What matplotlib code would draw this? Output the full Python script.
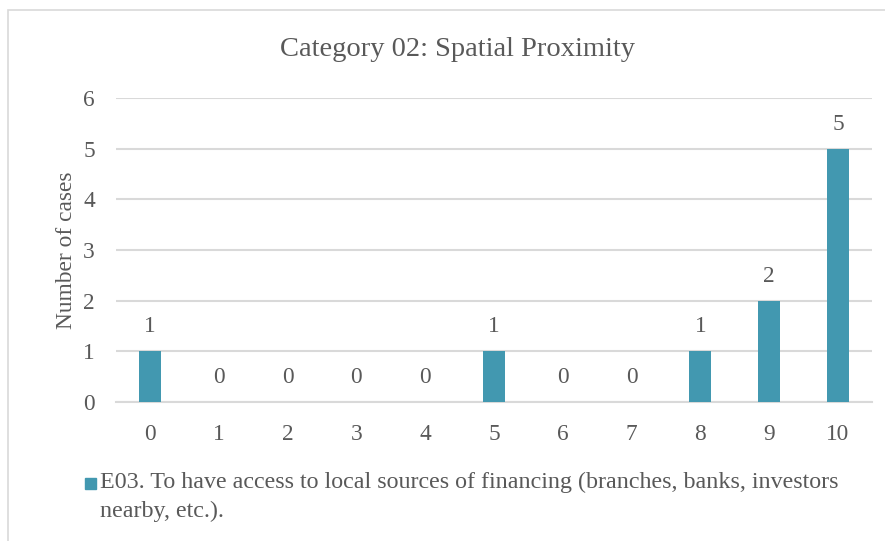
import matplotlib.pyplot as plt
from matplotlib.patches import Rectangle

scores = [0, 1, 2, 3, 4, 5, 6, 7, 8, 9, 10]
cases = [1, 0, 0, 0, 0, 1, 0, 0, 1, 2, 5]
series_label = "E03. To have access to local sources of financing (branches, banks, investors\nnearby, etc.)."
title = "Category 02: Spatial Proximity"

bar_color = "#4298B0"
text_color = "#595959"
grid_color = "#D9D9D9"

plt.rcParams['font.family'] = ['Liberation Serif', 'DejaVu Serif']

W, H = 885, 541
fig = plt.figure(figsize=(W / 100, H / 100), dpi=100)

# chart border (only left/top visible in the reference)
fig.patches.append(Rectangle((8 / W, -0.01), 1.0, 1 - 10 / H + 0.01,
                             transform=fig.transFigure, fill=False,
                             edgecolor=grid_color, linewidth=1.2))

ax = fig.add_axes([115.6 / W, 139 / H, (872.4 - 115.6) / W, (443 - 139) / H])
bars = ax.bar(scores, cases, width=0.32, color=bar_color, zorder=3)

fs = 16.8
for x, v in zip(scores, cases):
    ax.annotate(str(v), (x, v), xytext=(0, 10), textcoords='offset points',
                ha='center', va='bottom', fontsize=fs, color=text_color)

ax.set_xlim(-0.5, 10.5)
ax.set_ylim(0, 6)
ax.set_yticks(range(0, 7))
ax.set_xticks(scores)
ax.yaxis.grid(True, color=grid_color, linewidth=1.5, zorder=0)
for s in ['top', 'right', 'left']:
    ax.spines[s].set_visible(False)
ax.spines['bottom'].set_color(grid_color)
ax.spines['bottom'].set_linewidth(1.5)
ax.tick_params(length=0, labelsize=fs, labelcolor=text_color)
ax.tick_params(axis='x', pad=16)
ax.tick_params(axis='y', pad=15)
ax.set_ylabel("Number of cases", fontsize=fs, color=text_color, labelpad=4)

fig.text(458 / W, 1 - 49 / H, title, ha='center', va='center',
         fontsize=20.5, color=text_color)

# legend
fig.patches.append(Rectangle((85 / W, 1 - 489 / H), 11 / W, 11 / H,
                             transform=fig.transFigure, color=bar_color))
fig.text(100 / W, 1 - 472 / H, series_label, ha='left', va='top',
         fontsize=17.3, color=text_color, linespacing=1.45)

fig.savefig("out.png", dpi=100)
